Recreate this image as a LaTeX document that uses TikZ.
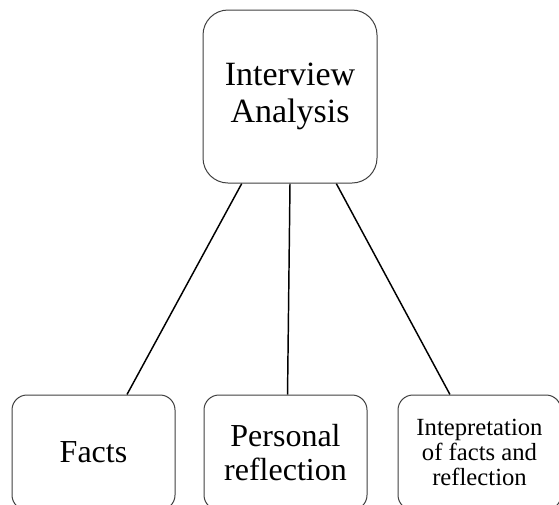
\documentclass[tikz,border=0pt]{standalone}
\usepackage{fontspec}
\setmainfont{Liberation Serif}
\usepackage{tikz}
\usetikzlibrary{positioning}
\pgfdeclarelayer{nodelayer}
\pgfdeclarelayer{edgelayer}
\pgfsetlayers{edgelayer,nodelayer,main}
\tikzset{topbox/.style={draw=black!75, line width=.75pt, rounded corners=18.75pt, fill=white,
minimum width=130.5pt, minimum height=129.75pt, align=center, inner sep=0pt}}
\tikzset{leafbox/.style={draw=black!75, line width=.75pt, rounded corners=11.25pt, fill=white,
minimum width=122.25pt, minimum height=86.25pt, align=center, inner sep=0pt}}
\tikzset{branch/.style={line width=1.1pt, black}}
\begin{document}
\begin{tikzpicture}[x=0.75pt, y=-0.75pt]
        \useasboundingbox (0,0) rectangle (559,504);
        \clip (0,0) rectangle (559,504);
        \begin{pgfonlayer}{nodelayer}
            \node [topbox, font={\fontsize{25.5}{28}\selectfont}] (analysis) at (290, 96.5) {Interview\\Analysis};
            \node [leafbox, font={\fontsize{24}{25.5}\selectfont}] (facts) at (93.5, 452.5) {Facts};
            \node [leafbox, font={\fontsize{24}{25.5}\selectfont}] (personal) at (285.5, 452.5) {Personal\\reflection};
            \node [leafbox, font={\fontsize{18.5}{18.75}\selectfont}] (interp) at (479.5, 452.5) {Intepretation\\of facts and\\reflection};
        \end{pgfonlayer}
        \begin{pgfonlayer}{edgelayer}
            \draw [branch] (analysis.241) to (facts.60.5);
            \draw [branch] (analysis.270.7) to (personal.88.5);
            \draw [branch] (analysis.298.5) to (interp.117);
        \end{pgfonlayer}
    \end{tikzpicture}
\end{document}
